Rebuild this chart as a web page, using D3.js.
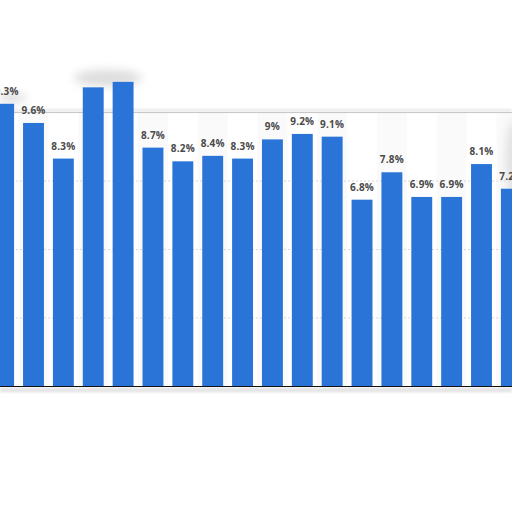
<!DOCTYPE html>
<html>
<head>
<meta charset="utf-8">
<script src="https://cdn.jsdelivr.net/npm/d3@7"></script>
<style>
  html, body { margin: 0; padding: 0; background: #fff; }
  svg { display: block; }
</style>
</head>
<body>
<svg width="512" height="512"></svg>
<script>
var categories = ["c1", "c2", "c3", "c4", "c5", "c6", "c7", "c8", "c9",
                  "c10", "c11", "c12", "c13", "c14", "c15", "c16", "c17", "c18"];
var values = [10.3, 9.6, 8.3, 10.9, 11.1, 8.7, 8.2, 8.4, 8.3,
              9, 9.2, 9.1, 6.8, 7.8, 6.9, 6.9, 8.1, 7.2];
// labels of bars 4 and 5 are covered in the picture
var labels = ["10.3%", "9.6%", "8.3%", "", "", "8.7%", "8.2%", "8.4%", "8.3%",
              "9%", "9.2%", "9.1%", "6.8%", "7.8%", "6.9%", "6.9%", "8.1%", "7.2%"];
var gridTicks = [2.5, 5, 7.5];

var svg = d3.select("svg");

var x = d3.scaleBand()
    .domain(categories)
    .range([-11.3, 526.3])
    .paddingInner(0.3)
    .paddingOuter(0.15);

var y = d3.scaleLinear()
    .domain([0, 12.5])
    .range([386, 43.5]);

var defs = svg.append("defs");
defs.append("filter").attr("id", "blur")
    .attr("x", "-50%").attr("y", "-50%").attr("width", "200%").attr("height", "200%")
  .append("feGaussianBlur").attr("stdDeviation", 5);
defs.append("filter").attr("id", "blur2")
    .attr("x", "-50%").attr("y", "-50%").attr("width", "200%").attr("height", "200%")
  .append("feGaussianBlur").attr("stdDeviation", 1.5);

// alternating column shading
svg.append("g")
  .selectAll("rect")
  .data(categories.filter(function(d, i) { return i % 2 == 1; }))
  .enter().append("rect")
    .attr("x", function(d) { return x(d) - x.step() * 0.15; })
    .attr("y", y(10))
    .attr("width", x.step())
    .attr("height", y(0) - y(10))
    .style("fill", "#fafafa");

// shadow above the top line
svg.append("rect")
    .attr("x", 0).attr("y", y(10) - 3)
    .attr("width", 512).attr("height", 3)
    .style("fill", "#e8e8e8")
    .attr("filter", "url(#blur2)");

// smudges
svg.append("ellipse")
    .attr("cx", x("c4") + x.bandwidth() + 4).attr("cy", 78)
    .attr("rx", 34).attr("ry", 8)
    .style("fill", "#dcdcdc")
    .attr("filter", "url(#blur)");
svg.append("ellipse")
    .attr("cx", 12).attr("cy", 98)
    .attr("rx", 14).attr("ry", 5)
    .style("fill", "#dddddd")
    .attr("filter", "url(#blur)");
svg.append("ellipse")
    .attr("cx", 514).attr("cy", 160)
    .attr("rx", 8).attr("ry", 40)
    .style("fill", "#e0e0e0")
    .attr("filter", "url(#blur)");

// gridlines
svg.append("g")
  .selectAll("line")
  .data(gridTicks)
  .enter().append("line")
    .attr("x1", 0).attr("x2", 512)
    .attr("y1", function(d) { return y(d) + 0.5; })
    .attr("y2", function(d) { return y(d) + 0.5; })
    .style("stroke", "#d8d8d8")
    .style("stroke-width", 1)
    .style("stroke-dasharray", "2,2");

svg.append("line")
    .attr("x1", 0).attr("x2", 512)
    .attr("y1", y(10) + 0.5).attr("y2", y(10) + 0.5)
    .style("stroke", "#c8c8c8")
    .style("stroke-width", 1.2);

// shadow below baseline
svg.append("rect")
    .attr("x", 0).attr("y", y(0) + 2)
    .attr("width", 512).attr("height", 4)
    .style("fill", "#e0e0e0")
    .attr("filter", "url(#blur2)");

// bars
svg.append("g")
  .selectAll("rect")
  .data(values)
  .enter().append("rect")
    .attr("x", function(d, i) { return x(categories[i]); })
    .attr("y", function(d) { return y(d); })
    .attr("width", x.bandwidth())
    .attr("height", function(d) { return y(0) - y(d); })
    .style("fill", "#2a74d8");

// baseline
svg.append("line")
    .attr("x1", 0).attr("x2", 512)
    .attr("y1", y(0) + 0.5).attr("y2", y(0) + 0.5)
    .style("stroke", "#111")
    .style("stroke-width", 1.2);

// value labels
svg.append("g")
  .selectAll("text")
  .data(values)
  .enter().append("text")
    .attr("x", function(d, i) { return x(categories[i]) + x.bandwidth() / 2; })
    .attr("y", function(d) { return y(d) - 9; })
    .attr("text-anchor", "middle")
    .style("font-family", "'Open Sans', sans-serif")
    .style("font-weight", "bold")
    .style("font-size", "10px")
    .style("letter-spacing", "0.2px")
    .style("fill", "#4a4a4a")
    .text(function(d, i) { return labels[i]; });
</script>
</body>
</html>
